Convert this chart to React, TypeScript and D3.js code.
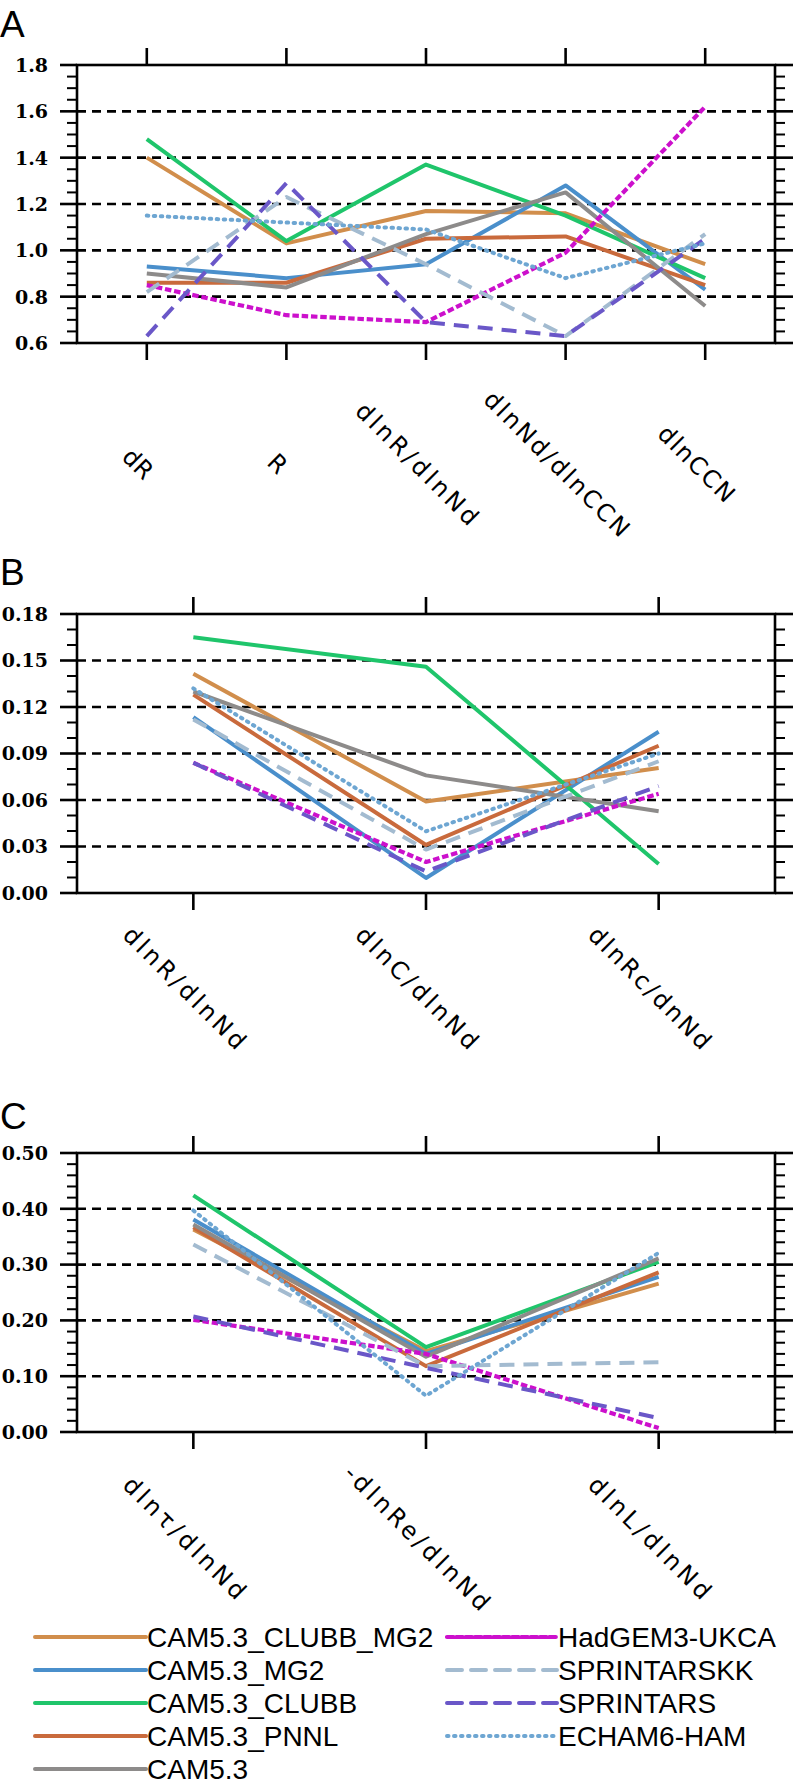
import React, { useEffect } from "react";
import * as d3 from "d3";

// ---------- categories ----------
const categoriesA = ["dR", "R", "dlnR/dlnNd", "dlnNd/dlnCCN", "dlnCCN"];
const categoriesB = ["dlnR/dlnNd", "dlnC/dlnNd", "dlnRc/dnNd"];
const categoriesC = ["dlnτ/dlnNd", "-dlnRe/dlnNd", "dlnL/dlnNd"];

// ---------- series values (panel A) ----------
const clubbMg2A = [1.40, 1.03, 1.17, 1.16, 0.94];
const mg2A = [0.93, 0.88, 0.94, 1.28, 0.83];
const clubbA = [1.48, 1.04, 1.37, 1.15, 0.88];
const pnnlA = [0.86, 0.86, 1.05, 1.06, 0.85];
const cam53A = [0.90, 0.84, 1.07, 1.25, 0.76];
const hadgemA = [0.85, 0.72, 0.69, 0.99, 1.62];
const sprintarsKKA = [0.82, 1.23, 0.94, 0.63, 1.07];
const sprintarsA = [0.63, 1.29, 0.69, 0.63, 1.05];
const echamA = [1.15, 1.12, 1.09, 0.88, 1.03];

// ---------- series values (panel B) ----------
const clubbMg2B = [0.1415, 0.059, 0.0806];
const mg2B = [0.1135, 0.0097, 0.104];
const clubbB = [0.165, 0.146, 0.0187];
const pnnlB = [0.128, 0.031, 0.095];
const cam53B = [0.130, 0.0759, 0.0527];
const hadgemB = [0.084, 0.020, 0.064];
const sprintarsKKB = [0.112, 0.028, 0.085];
const sprintarsB = [0.084, 0.014, 0.069];
const echamB = [0.132, 0.0398, 0.090];

// ---------- series values (panel C) ----------
const clubbMg2C = [0.363, 0.145, 0.266];
const mg2C = [0.381, 0.140, 0.278];
const clubbC = [0.424, 0.152, 0.305];
const pnnlC = [0.367, 0.118, 0.286];
const cam53C = [0.372, 0.135, 0.311];
const hadgemC = [0.201, 0.140, 0.007];
const sprintarsKKC = [0.336, 0.118, 0.125];
const sprintarsC = [0.207, 0.115, 0.025];
const echamC = [0.397, 0.065, 0.321];

// ---------- y domains ----------
const yDomainA = [0.6, 1.8];
const yDomainB = [0, 0.18];
const yDomainC = [0, 0.5];

type Style = { name: string; color: string; width: number; dash?: string; cap?: string };

const models: Style[] = [
  { name: "CAM5.3_CLUBB_MG2", color: "#D18E4C", width: 4 },
  { name: "CAM5.3_MG2", color: "#4A8FCB", width: 4 },
  { name: "CAM5.3_CLUBB", color: "#1FC56B", width: 4 },
  { name: "CAM5.3_PNNL", color: "#C96A3C", width: 4 },
  { name: "CAM5.3", color: "#8D8B8A", width: 4 },
  { name: "HadGEM3-UKCA", color: "#CC10CC", width: 4.2, dash: "6.5 2.8" },
  { name: "SPRINTARSKK", color: "#A3BBD0", width: 4, dash: "15 9" },
  { name: "SPRINTARS", color: "#6A57C8", width: 4, dash: "15 9" },
  { name: "ECHAM6-HAM", color: "#6EA6D2", width: 4, dash: "1.5 5.5", cap: "round" },
];

const seriesA = [clubbMg2A, mg2A, clubbA, pnnlA, cam53A, hadgemA, sprintarsKKA, sprintarsA, echamA];
const seriesB = [clubbMg2B, mg2B, clubbB, pnnlB, cam53B, hadgemB, sprintarsKKB, sprintarsB, echamB];
const seriesC = [clubbMg2C, mg2C, clubbC, pnnlC, cam53C, hadgemC, sprintarsKKC, sprintarsC, echamC];

const W = 793;
const H = 1781;
const LEFT = 77;
const RIGHT = 775;

type PanelCfg = {
  letter: string;
  letterY: number;
  top: number;
  bottom: number;
  domain: number[];
  major: number;
  minor: number;
  decimals: number;
  cats: string[];
  series: number[][];
  labelY: number;
};

const panels: PanelCfg[] = [
  { letter: "A", letterY: 37, top: 65, bottom: 343, domain: yDomainA, major: 0.2, minor: 0.05, decimals: 1, cats: categoriesA, series: seriesA, labelY: 464 },
  { letter: "B", letterY: 585, top: 614, bottom: 893, domain: yDomainB, major: 0.03, minor: 0.01, decimals: 2, cats: categoriesB, series: seriesB, labelY: 988 },
  { letter: "C", letterY: 1129, top: 1153, bottom: 1432, domain: yDomainC, major: 0.1, minor: 0.02, decimals: 2, cats: categoriesC, series: seriesC, labelY: 1538 },
];

function stepsOf(domain: number[], step: number) {
  const n = Math.round((domain[1] - domain[0]) / step);
  return d3.range(n + 1).map((i) => +(domain[0] + i * step).toFixed(6));
}

function Panel({ p }: { p: PanelCfg }) {
  const x = d3.scalePoint<string>().domain(p.cats).range([LEFT, RIGHT]).padding(0.5);
  const y = d3.scaleLinear().domain(p.domain).range([p.bottom, p.top]);
  const majors = stepsOf(p.domain, p.major);
  const minors = stepsOf(p.domain, p.minor).filter(
    (v) => !majors.some((m) => Math.abs(m - v) < 1e-6)
  );
  const line = d3
    .line<number>()
    .x((_, i) => x(p.cats[i]) as number)
    .y((d) => y(d));
  const axisW = 2.6;
  return (
    <g>
      <text x={0} y={p.letterY} fontFamily="Liberation Sans, Arial, sans-serif" fontSize={37}>
        {p.letter}
      </text>
      {majors
        .filter((v) => v !== p.domain[0] && v !== p.domain[1])
        .map((v) => (
          <line key={"g" + v} x1={LEFT} x2={RIGHT} y1={y(v)} y2={y(v)} stroke="#000" strokeWidth={2.6} strokeDasharray="9 6" />
        ))}
      {p.series.map((s, i) => {
        const m = models[i];
        return (
          <path
            key={m.name}
            d={line(s) || ""}
            fill="none"
            stroke={m.color}
            strokeWidth={m.width}
            strokeDasharray={m.dash}
            strokeLinecap={(m.cap as any) || "butt"}
            strokeLinejoin="round"
          />
        );
      })}
      <rect x={LEFT} y={p.top} width={RIGHT - LEFT} height={p.bottom - p.top} fill="none" stroke="#000" strokeWidth={axisW} />
      {majors.map((v) => (
        <g key={"mj" + v}>
          <line x1={LEFT - 17} x2={LEFT} y1={y(v)} y2={y(v)} stroke="#000" strokeWidth={axisW} />
          <line x1={RIGHT} x2={W} y1={y(v)} y2={y(v)} stroke="#000" strokeWidth={axisW} />
          <text
            x={48}
            y={y(v)}
            dy="0.36em"
            textAnchor="end"
            fontFamily="DejaVu Serif, serif"
            fontWeight="bold"
            fontSize={19}
          >
            {v.toFixed(p.decimals)}
          </text>
        </g>
      ))}
      {minors.map((v) => (
        <g key={"mn" + v}>
          <line x1={LEFT - 10} x2={LEFT} y1={y(v)} y2={y(v)} stroke="#000" strokeWidth={2} />
          <line x1={RIGHT} x2={RIGHT + 10} y1={y(v)} y2={y(v)} stroke="#000" strokeWidth={2} />
        </g>
      ))}
      {p.cats.map((c) => {
        const cx = x(c) as number;
        return (
          <g key={"x" + c}>
            <line x1={cx} x2={cx} y1={p.top - 17} y2={p.top} stroke="#000" strokeWidth={axisW} />
            <line x1={cx} x2={cx} y1={p.bottom} y2={p.bottom + 17} stroke="#000" strokeWidth={axisW} />
            <text
              transform={`translate(${cx - 9},${p.labelY}) rotate(45)`}
              textAnchor="middle"
              dominantBaseline="central"
              fontFamily="DejaVu Sans, sans-serif"
              fontSize={24}
              textLength={c.length * 16.2}
              lengthAdjust="spacing"
            >
              {c}
            </text>
          </g>
        );
      })}
    </g>
  );
}

const legendRows = [1637, 1670, 1703, 1736, 1769];

function Legend() {
  const left = models.slice(0, 5);
  const right = models.slice(5);
  const item = (m: Style, x1: number, x2: number, yy: number) => (
    <g key={"lg" + m.name}>
      <line
        x1={x1}
        x2={x2}
        y1={yy}
        y2={yy}
        stroke={m.color}
        strokeWidth={m.width}
        strokeDasharray={m.dash}
        strokeLinecap={(m.cap as any) || "round"}
      />
      <text x={x2 + 1} y={yy + 10} fontFamily="Liberation Sans, Arial, sans-serif" fontSize={28}>
        {m.name}
      </text>
    </g>
  );
  return (
    <g>
      {left.map((m, i) => item(m, 35, 146, legendRows[i]))}
      {right.map((m, i) => item(m, 447, 557, legendRows[i]))}
    </g>
  );
}

export default function App() {
  useEffect(() => {
    document.body.style.margin = "0";
  }, []);
  return (
    <svg width={W} height={H} style={{ display: "block", background: "#fff" }}>
      <rect width={W} height={H} fill="#fff" />
      {panels.map((p) => (
        <Panel key={p.letter} p={p} />
      ))}
      <Legend />
    </svg>
  );
}
